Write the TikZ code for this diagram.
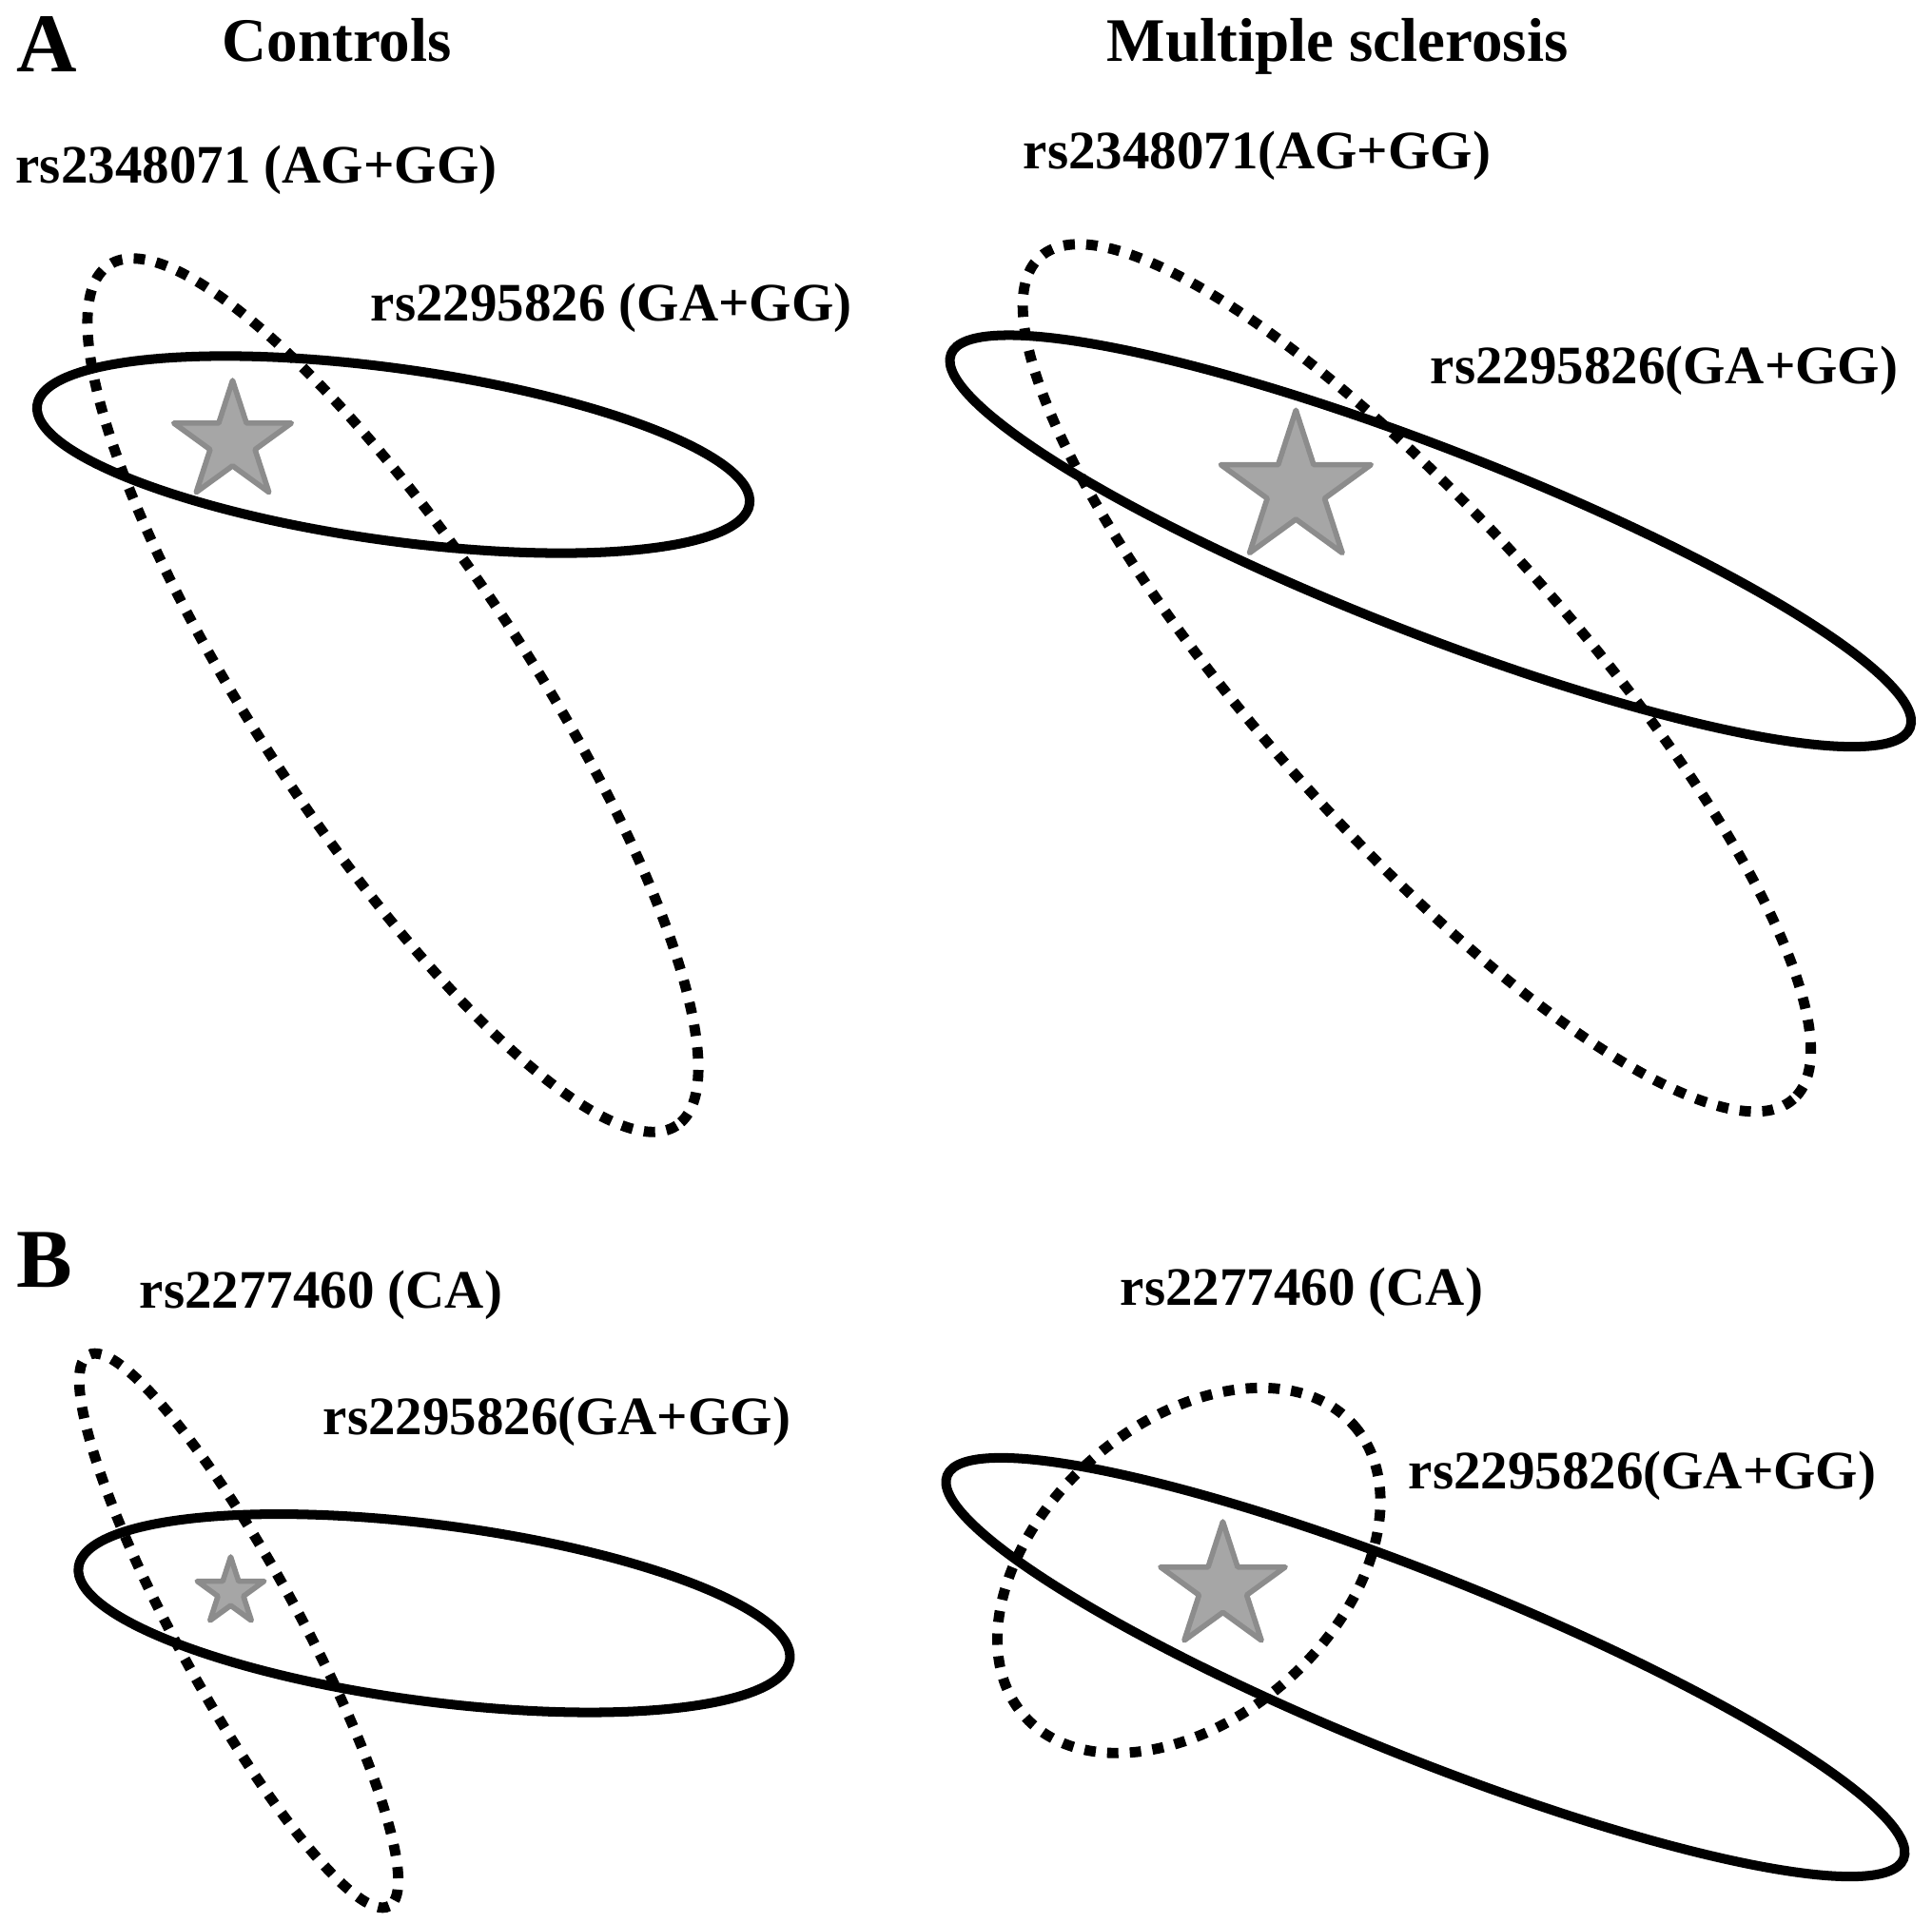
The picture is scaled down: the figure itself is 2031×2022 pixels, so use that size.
\documentclass[tikz,border=0pt]{standalone}
\usepackage{fontspec}
\setmainfont{Liberation Serif}
\newcommand\myell[6]{\draw[#1, rotate around={#6:(#2,#3)}] (#2,#3) ellipse [x radius=#4, y radius=#5];}
\newcommand\mystar[3]{\draw[starsty] plot[samples at={0,...,9}, variable=\k] ({#1+#3*(1-0.618*mod(\k,2))*cos(270+36*\k)}, {#2+#3*(1-0.618*mod(\k,2))*sin(270+36*\k)}) -- cycle;}
\begin{document}
\begin{tikzpicture}[x=0.01cm, y=-0.01cm,
 solidell/.style={line width=2.85pt, draw=black},
 dashell/.style={line width=3.1pt, draw=black, dash pattern=on 3.4pt off 3.4pt},
 starsty/.style={fill=black!35, draw=black!45, line width=1.6pt, line join=round},
 lbl/.style={inner sep=0, anchor=base west, font=\bfseries\fontsize{16.2pt}{19pt}\selectfont},
 head/.style={inner sep=0, anchor=base west, font=\bfseries\fontsize{18.5pt}{22pt}\selectfont},
 panel/.style={inner sep=0, anchor=base west, font=\bfseries\fontsize{25pt}{30pt}\selectfont}]
\useasboundingbox (0,0) rectangle (2031,2022);
% texts
\node[panel] (lA) at (17,76) {A};
\node[head] (hC) at (233,65) {Controls};
\node[head] (hM) at (1163,65) {Multiple sclerosis};
\node[lbl] (a1) at (16,193) {rs2348071 (AG+GG)};
\node[lbl] (a2) at (389,338) {rs2295826 (GA+GG)};
\node[lbl] (a3) at (1075,178) {rs2348071(AG+GG)};
\node[lbl] (a4) at (1503,404) {rs2295826(GA+GG)};
\node[panel] (lB) at (17,1353) {B};
\node[lbl] (b1) at (146,1375) {rs2277460 (CA)};
\node[lbl] (b2) at (339,1508) {rs2295826(GA+GG)};
\node[lbl] (b3) at (1177,1372) {rs2277460 (CA)};
\node[lbl] (b4) at (1480,1565) {rs2295826(GA+GG)};
% panel A left
\myell{solidell}{413.5}{478}{378}{90.5}{-7.9}
\myell{dashell}{413}{731}{542}{142}{-56.6}
\mystar{244.5}{465}{65}
% panel A right
\myell{solidell}{1503.8}{568.8}{541}{97}{-21.3}
\myell{dashell}{1489.4}{712.8}{594}{163}{-48.2}
\mystar{1362.3}{514.3}{83}
% panel B left
\myell{solidell}{456.4}{1696.3}{377}{93}{-7.4}
\myell{dashell}{251}{1714.5}{330}{64}{-61.4}
\mystar{242.5}{1674}{37}
% panel B right
\myell{solidell}{1498.4}{1753}{541.6}{95.2}{-21.85}
\myell{dashell}{1249.8}{1651.3}{231}{155}{41.4}
\mystar{1285.5}{1669}{69}
\end{tikzpicture}
\end{document}
